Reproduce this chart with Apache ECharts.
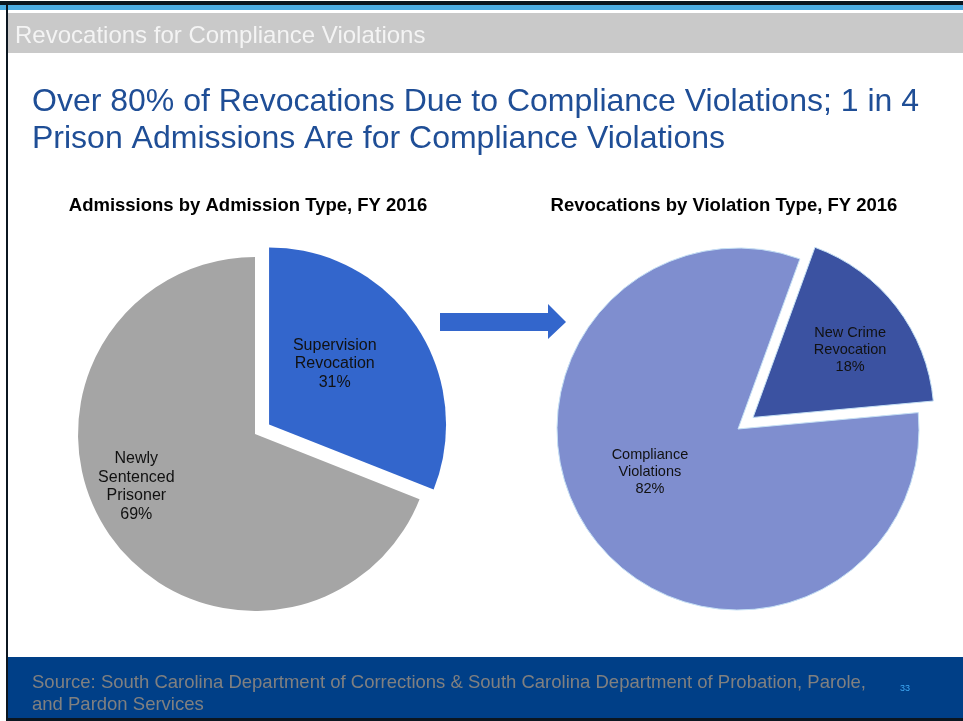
<!DOCTYPE html>
<html>
<head>
<meta charset="utf-8">
<script src="https://cdn.jsdelivr.net/npm/echarts@6/dist/echarts.min.js"></script>
<style>
  html, body { margin: 0; padding: 0; background: #fff; }
  #main { width: 963px; height: 721px; }
</style>
</head>
<body>
<div id="main"></div>
<script>
// data
var admissionTypes = ['Supervision\nRevocation', 'Newly\nSentenced\nPrisoner'];
var admissionShares = [31, 69];
var admissionColors = ['#3366CC', '#A5A5A5'];

var violationTypes = ['New Crime\nRevocation', 'Compliance\nViolations'];
var violationShares = [18, 82];
var violationColors = ['#3B52A1', '#7F8ECF'];

var FONT = '"Liberation Sans", Arial, sans-serif';

var myChart = echarts.init(document.getElementById('main'));

// the exploded slice is drawn in its "select" state, so its label offset goes there
function pieData(names, values, colors, selectedIdx, offsets) {
    return names.map(function (n, i) {
        var item = {
            name: n,
            value: values[i],
            selected: i === selectedIdx,
            itemStyle: { color: colors[i] },
            label: { offset: offsets[i] }
        };
        if (i === selectedIdx) item.select = { label: { offset: offsets[i] } };
        return item;
    });
}

function labelStyle(size, lh) {
    return {
        show: true,
        position: 'inside',
        color: '#111',
        fontFamily: FONT,
        fontSize: size,
        lineHeight: lh,
        formatter: function (p) { return p.name + '\n' + p.value + '%'; }
    };
}

var option = {
    animation: false,
    backgroundColor: '#fff',
    title: [
        {
            text: 'Admissions by Admission Type, FY 2016',
            left: 243, top: 191, textAlign: 'center',
            textStyle: { fontFamily: FONT, fontSize: 18.5, fontWeight: 'bold', color: '#000' }
        },
        {
            text: 'Revocations by Violation Type, FY 2016',
            left: 719, top: 191, textAlign: 'center',
            textStyle: { fontFamily: FONT, fontSize: 18.5, fontWeight: 'bold', color: '#000' }
        }
    ],
    series: [
        {
            type: 'pie',
            center: [255, 434],
            radius: 177,
            startAngle: 90,
            clockwise: true,
            selectedMode: 'single',
            selectedOffset: 17,
            emphasis: { disabled: true },
            label: labelStyle(16, 18.5),
            labelLine: { show: false },
            data: pieData(admissionTypes, admissionShares, admissionColors, 0, [[-10, -9], [-43, 1]])
        },
        {
            type: 'pie',
            center: [738, 429],
            radius: 181,
            startAngle: 70,
            clockwise: true,
            selectedMode: 'single',
            selectedOffset: 19,
            emphasis: { disabled: true },
            itemStyle: { borderColor: '#C5E0F5', borderWidth: 1 },
            label: labelStyle(14.5, 17),
            labelLine: { show: false },
            data: pieData(violationTypes, violationShares, violationColors, 0, [[23, -10], [-14, -14]])
        }
    ],
    graphic: [
        // top rules
        { type: 'rect', shape: { x: 0, y: 1, width: 963, height: 4 }, style: { fill: '#0B1620' }, z: 10 },
        { type: 'rect', shape: { x: 0, y: 5, width: 963, height: 5 }, style: { fill: '#4BACE3' }, z: 10 },
        // header band
        { type: 'rect', shape: { x: 8, y: 13, width: 955, height: 40 }, style: { fill: '#C9C9C9' }, z: 10 },
        {
            type: 'text', x: 15, y: 36, z: 11,
            style: { text: 'Revocations for Compliance Violations', fill: '#F4F4F4', font: '24px ' + FONT, textVerticalAlign: 'middle' }
        },
        // slide title
        {
            type: 'text', x: 32, y: 84, z: 11,
            style: {
                text: 'Over 80% of Revocations Due to Compliance Violations; 1 in 4\nPrison Admissions Are for Compliance Violations',
                fill: '#1F4E96', font: '32px ' + FONT, lineHeight: 37
            }
        },
        // arrow between pies
        {
            type: 'polygon', z: 5,
            shape: { points: [[440, 313], [548, 313], [548, 304], [566, 322], [548, 339], [548, 331], [440, 331]] },
            style: { fill: '#3366CC' }
        },
        // footer
        { type: 'rect', shape: { x: 8, y: 657, width: 955, height: 61 }, style: { fill: '#003F87' }, z: 10 },
        {
            type: 'text', x: 32, y: 672, z: 11,
            style: {
                text: 'Source: South Carolina Department of Corrections & South Carolina Department of Probation, Parole,\nand Pardon Services',
                fill: '#808080', font: '18.5px ' + FONT, lineHeight: 22
            }
        },
        {
            type: 'text', x: 900, y: 684, z: 11,
            style: { text: '33', fill: '#3FA9F5', font: '9px ' + FONT }
        },
        // frame
        { type: 'rect', shape: { x: 6, y: 1, width: 2, height: 720 }, style: { fill: '#0B1620' }, z: 12 },
        { type: 'rect', shape: { x: 6, y: 718, width: 957, height: 3 }, style: { fill: '#0B1620' }, z: 12 }
    ]
};

myChart.setOption(option);
</script>
</body>
</html>
